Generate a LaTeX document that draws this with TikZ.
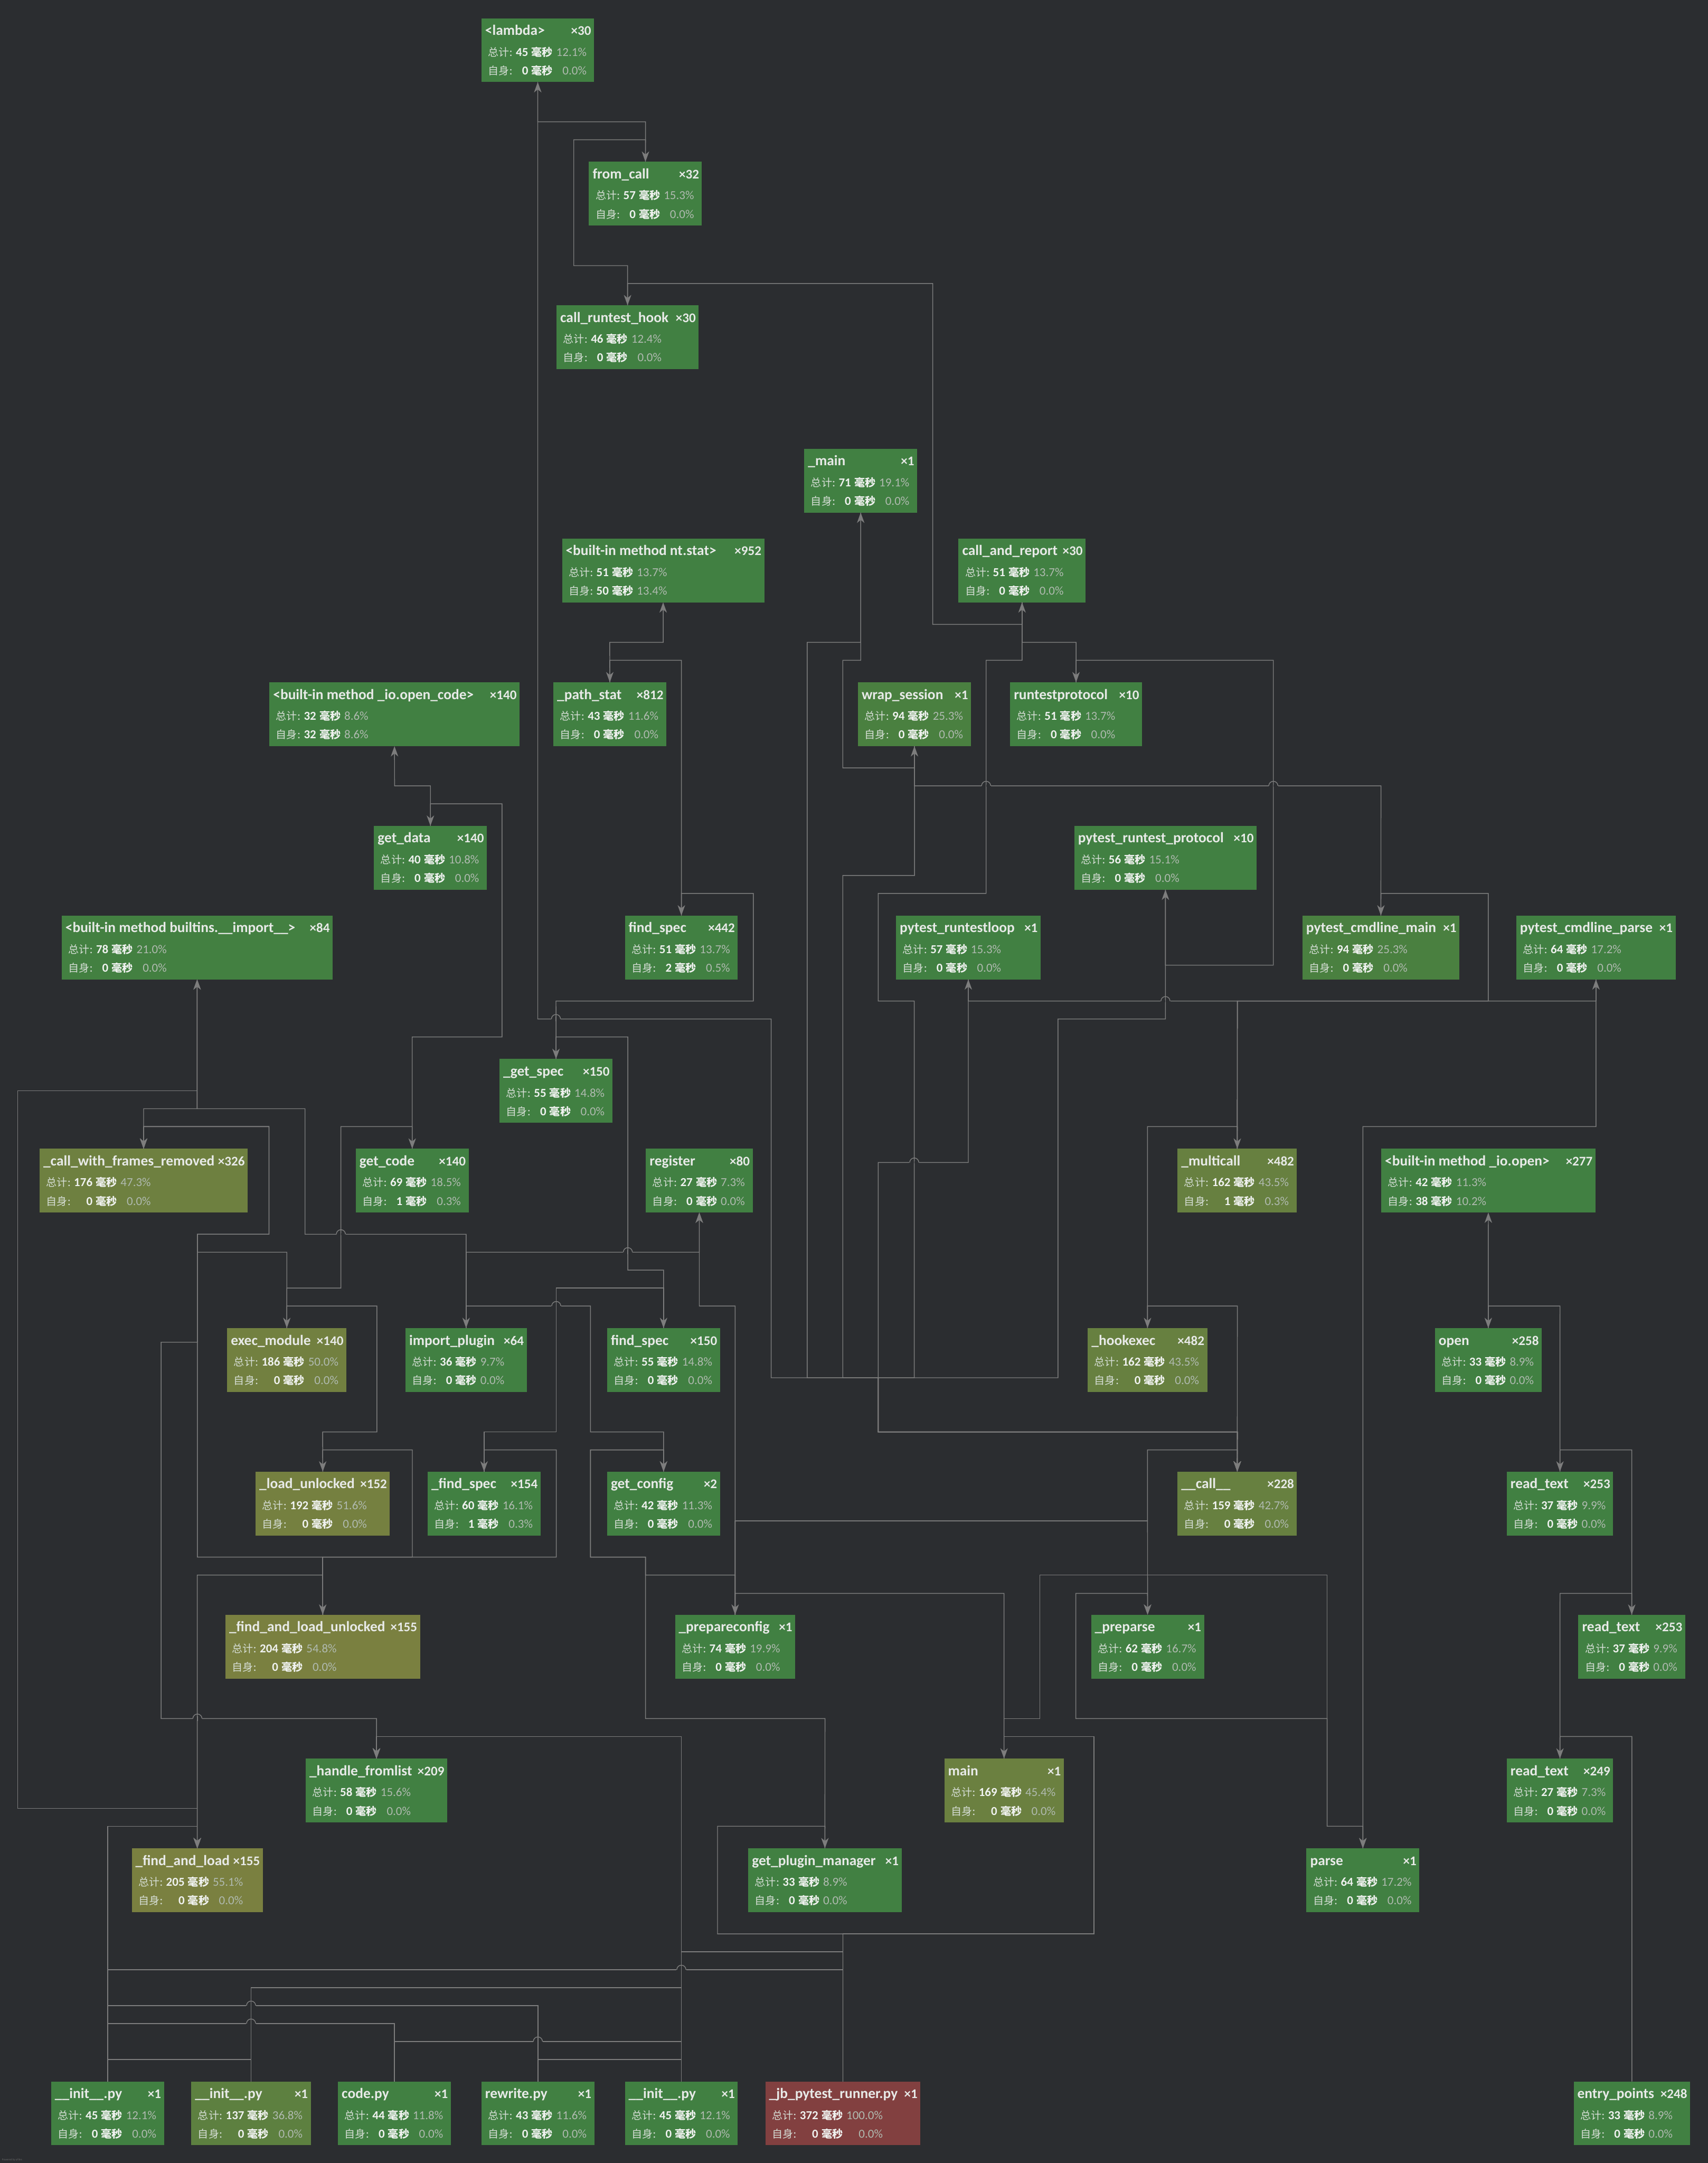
\documentclass[tikz,border=0pt]{standalone}
\usepackage{fontspec}
\setmainfont{Carlito}
\newfontfamily\cjk{Noto Sans CJK SC}
\usetikzlibrary{arrows.meta}
\definecolor{bgc}{RGB}{43,45,48}
\definecolor{edgec}{RGB}{125,125,125}
\definecolor{ttlc}{RGB}{232,234,232}
\definecolor{labc}{RGB}{214,222,214}
\definecolor{valc}{RGB}{240,242,240}
\definecolor{pctc}{RGB}{176,186,176}
\definecolor{cg}{RGB}{65,128,66}
\definecolor{c21}{RGB}{67,128,65}
\definecolor{c25}{RGB}{74,128,64}
\definecolor{c37}{RGB}{93,128,64}
\definecolor{c43}{RGB}{103,128,64}
\definecolor{c45}{RGB}{107,128,64}
\definecolor{c47}{RGB}{110,128,64}
\definecolor{c50}{RGB}{114,128,64}
\definecolor{c52}{RGB}{117,128,64}
\definecolor{c55}{RGB}{122,128,64}
\definecolor{cred}{RGB}{130,64,64}
\newcommand{\cj}[1]{{\cjk\fontsize{7.7}{13.5}\selectfont #1}}
\newcommand{\stattab}[4]{\begin{tabular}[t]{@{}l@{\hspace{2.4pt}}r@{\hspace{2.4pt}}l@{\hspace{2.6pt}}r@{}}{\color{labc}\cj{总计}:}&\textbf{#1}&\textbf{\cj{毫秒}}&{\color{pctc}#2\%}\\{\color{labc}\cj{自身}:}&\textbf{#3}&\textbf{\cj{毫秒}}&{\color{pctc}#4\%}\end{tabular}}
\newcommand{\cgnode}[9]{%
\node[fbox,fill=#5,minimum width={#4pt-#2pt},anchor=north west] (#1) at (#2,#3) {};
\node[ttl,anchor=base west] at ([xshift=2.5pt,yshift=-12.3pt]#1.north west) {#6};
\node[cnt,anchor=base east] at ([xshift=-1.9pt,yshift=-12.3pt]#1.north east) {×#7};
\node[stat,anchor=base west] at ([xshift=4.6pt,yshift=-27.4pt]#1.north west) {\stattab#8#9};}
\newcommand{\hopover}[2]{%
\fill[bgc] (#1-3.5,#2-0.8) rectangle (#1+3.5,#2+0.8);
\draw[edge] (#1,#2-1.6) -- (#1,#2+1.6);
\draw[edge] (#1-3.3,#2) arc[start angle=180,end angle=0,radius=3.3pt];}
\begin{document}
\begin{tikzpicture}[x=1pt,y=-1pt,
  fbox/.style={rectangle,draw=none,inner sep=0pt,outer sep=0pt,minimum height=46.25pt},
  ttl/.style={inner sep=0pt,text=ttlc,font=\fontsize{10.5}{12}\selectfont\bfseries},
  cnt/.style={inner sep=0pt,text=ttlc,font=\fontsize{9.6}{12}\selectfont\bfseries},
  stat/.style={inner sep=0pt,text=valc,font=\fontsize{8.8}{13.5}\selectfont},
  edge/.style={draw=edgec,line width=0.55pt},
  arr/.style={edge,-{Stealth[length=7.5pt,width=5.4pt,inset=2.2pt]}}]
\useasboundingbox (0,0) rectangle (1238,1567.6);
\fill[bgc] (0,0) rectangle (1238,1567.6);

% ---------------- nodes ----------------
\cgnode{lambda}{349.0}{13.25}{430.6}{cg}{<lambda>}{30}{{45}{12.1}}{{0}{0.0}}
\cgnode{fromcall}{426.9}{117.25}{508.8}{cg}{from\_call}{32}{{57}{15.3}}{{0}{0.0}}
\cgnode{crh}{403.4}{221.25}{506.4}{cg}{call\_runtest\_hook}{30}{{46}{12.4}}{{0}{0.0}}
\cgnode{mainA}{583.0}{325.25}{664.8}{cg}{\_main}{1}{{71}{19.1}}{{0}{0.0}}
\cgnode{ntstat}{407.4}{390.25}{554.0}{cg}{<built-in method nt.stat>}{952}{{51}{13.7}}{{50}{13.4}}
\cgnode{car}{694.8}{390.25}{786.9}{cg}{call\_and\_report}{30}{{51}{13.7}}{{0}{0.0}}
\cgnode{opencode}{195.3}{494.5}{376.6}{cg}{<built-in method \_io.open\_code>}{140}{{32}{8.6}}{{32}{8.6}}
\cgnode{pathstat}{401.1}{494.5}{483.0}{cg}{\_path\_stat}{812}{{43}{11.6}}{{0}{0.0}}
\cgnode{wrap}{621.9}{494.5}{703.8}{c25}{wrap\_session}{1}{{94}{25.3}}{{0}{0.0}}
\cgnode{rtp}{732.2}{494.5}{827.8}{cg}{runtestprotocol}{10}{{51}{13.7}}{{0}{0.0}}
\cgnode{getdata}{271.1}{598.5}{352.9}{cg}{get\_data}{140}{{40}{10.8}}{{0}{0.0}}
\cgnode{prp}{778.7}{598.5}{910.9}{cg}{pytest\_runtest\_protocol}{10}{{56}{15.1}}{{0}{0.0}}
\cgnode{imp}{44.7}{663.5}{241.1}{c21}{<built-in method builtins.\_\_import\_\_>}{84}{{78}{21.0}}{{0}{0.0}}
\cgnode{fsA}{453.0}{663.5}{534.8}{cg}{find\_spec}{442}{{51}{13.7}}{{2}{0.5}}
\cgnode{loop}{649.5}{663.5}{754.3}{cg}{pytest\_runtestloop}{1}{{57}{15.3}}{{0}{0.0}}
\cgnode{pcm}{944.1}{663.5}{1057.8}{c25}{pytest\_cmdline\_main}{1}{{94}{25.3}}{{0}{0.0}}
\cgnode{pcp}{1099.1}{663.5}{1214.6}{cg}{pytest\_cmdline\_parse}{1}{{64}{17.2}}{{0}{0.0}}
\cgnode{getspec}{362.1}{767.5}{444.0}{cg}{\_get\_spec}{150}{{55}{14.8}}{{0}{0.0}}
\cgnode{cwfr}{28.7}{832.5}{179.5}{c47}{\_call\_with\_frames\_removed}{326}{{176}{47.3}}{{0}{0.0}}
\cgnode{getcode}{257.9}{832.5}{339.7}{cg}{get\_code}{140}{{69}{18.5}}{{1}{0.3}}
\cgnode{register}{468.2}{832.5}{545.6}{cg}{register}{80}{{27}{7.3}}{{0}{0.0}}
\cgnode{multicall}{853.6}{832.5}{940.1}{c43}{\_multicall}{482}{{162}{43.5}}{{1}{0.3}}
\cgnode{ioopen}{1001.2}{832.5}{1156.5}{cg}{<built-in method \_io.open>}{277}{{42}{11.3}}{{38}{10.2}}
\cgnode{execmod}{164.7}{962.5}{251.1}{c50}{exec\_module}{140}{{186}{50.0}}{{0}{0.0}}
\cgnode{importplugin}{293.9}{962.5}{381.8}{cg}{import\_plugin}{64}{{36}{9.7}}{{0}{0.0}}
\cgnode{fsB}{440.1}{962.5}{521.9}{cg}{find\_spec}{150}{{55}{14.8}}{{0}{0.0}}
\cgnode{hookexec}{788.5}{962.5}{875.1}{c43}{\_hookexec}{482}{{162}{43.5}}{{0}{0.0}}
\cgnode{openf}{1040.1}{962.5}{1117.5}{cg}{open}{258}{{33}{8.9}}{{0}{0.0}}
\cgnode{loadu}{185.3}{1066.5}{282.6}{c52}{\_load\_unlocked}{152}{{192}{51.6}}{{0}{0.0}}
\cgnode{fsC}{310.0}{1066.5}{391.8}{cg}{\_find\_spec}{154}{{60}{16.1}}{{1}{0.3}}
\cgnode{getconfig}{440.1}{1066.5}{521.9}{cg}{get\_config}{2}{{42}{11.3}}{{0}{0.0}}
\cgnode{callh}{853.6}{1066.5}{940.1}{c43}{\_\_call\_\_}{228}{{159}{42.7}}{{0}{0.0}}
\cgnode{rtA}{1092.2}{1066.5}{1169.3}{cg}{read\_text}{253}{{37}{9.9}}{{0}{0.0}}
\cgnode{fnlu}{163.4}{1170.25}{304.5}{c55}{\_find\_and\_load\_unlocked}{155}{{204}{54.8}}{{0}{0.0}}
\cgnode{prepcfg}{489.3}{1170.25}{576.4}{cg}{\_prepareconfig}{1}{{74}{19.9}}{{0}{0.0}}
\cgnode{preparse}{790.9}{1170.25}{872.8}{cg}{\_preparse}{1}{{62}{16.7}}{{0}{0.0}}
\cgnode{rtB}{1144.1}{1170.25}{1221.5}{cg}{read\_text}{253}{{37}{9.9}}{{0}{0.0}}
\cgnode{hfl}{221.6}{1274.5}{324.2}{cg}{\_handle\_fromlist}{209}{{58}{15.6}}{{0}{0.0}}
\cgnode{mainB}{684.5}{1274.5}{771.1}{c45}{main}{1}{{169}{45.4}}{{0}{0.0}}
\cgnode{rtC}{1092.2}{1274.5}{1169.3}{cg}{read\_text}{249}{{27}{7.3}}{{0}{0.0}}
\cgnode{fal}{95.5}{1339.5}{190.5}{c55}{\_find\_and\_load}{155}{{205}{55.1}}{{0}{0.0}}
\cgnode{gpm}{542.4}{1339.5}{653.5}{cg}{get\_plugin\_manager}{1}{{33}{8.9}}{{0}{0.0}}
\cgnode{parse}{947.0}{1339.5}{1028.8}{cg}{parse}{1}{{64}{17.2}}{{0}{0.0}}
\cgnode{initA}{37.1}{1508.5}{118.9}{cg}{\_\_init\_\_.py}{1}{{45}{12.1}}{{0}{0.0}}
\cgnode{initB}{138.7}{1508.5}{225.3}{c37}{\_\_init\_\_.py}{1}{{137}{36.8}}{{0}{0.0}}
\cgnode{codepy}{245.0}{1508.5}{326.8}{cg}{code.py}{1}{{44}{11.8}}{{0}{0.0}}
\cgnode{rewrite}{349.0}{1508.5}{430.8}{cg}{rewrite.py}{1}{{43}{11.6}}{{0}{0.0}}
\cgnode{initC}{453.0}{1508.5}{534.8}{cg}{\_\_init\_\_.py}{1}{{45}{12.1}}{{0}{0.0}}
\cgnode{jb}{554.8}{1508.5}{667.2}{cred}{\_jb\_pytest\_runner.py}{1}{{372}{100.0}}{{0}{0.0}}
\cgnode{entry}{1140.7}{1508.5}{1225.1}{cg}{entry\_points}{248}{{33}{8.9}}{{0}{0.0}}

\node[anchor=west,inner sep=0pt,text={rgb,255:red,105;green,105;blue,105},font=\fontsize{2}{2.4}\selectfont] (pw) at (1.3,1565.3) {Powered by yFiles};

\coordinate (busj) at (636.6,998.5);

% ---------------- edges ----------------
\draw[arr] (fromcall.north) -- (467.9,88.25) -- (389.8,88.25) -- (lambda.south);
\draw[arr] (crh.north) -- (454.9,192.5) -- (415.9,192.5) -- (415.9,101.25) -- (467.9,101.25) -- (fromcall.north);
\draw[arr] (car.south) -- (740.9,452.5) -- (676.1,452.5) -- (676.1,205.5) -- (454.9,205.5) -- (crh.north);
\draw[arr] (rtp.north) -- (780,465.5) -- (740.9,465.5) -- (car.south);
\draw[arr] (prp.south) -- (844.8,699.5) -- (923,699.5) -- (923,478.5) -- (780,478.5) -- (rtp.north);
\draw[arr] (lambda.south) -- (389.8,738.5) -- (559,738.5) -- (559,998.5) -- (636.6,998.5) -- (636.6,1037.75) -- (896.9,1037.75) -- (callh.north);
\draw[arr] (mainA.south) -- (623.9,465.5) -- (585.1,465.5) -- (585.1,998.5) -- (636.6,998.5) -- (636.6,1037.75) -- (896.9,1037.75) -- (callh.north);
\draw[arr] (wrap.south) -- (662.9,556.5) -- (610.9,556.5) -- (610.9,478.5) -- (623.9,478.5) -- (mainA.south);
\draw[arr] (wrap.south) -- (662.9,634.5) -- (610.9,634.5) -- (610.9,998.5) -- (636.6,998.5) -- (636.6,1037.75) -- (896.9,1037.75) -- (callh.north);
\draw[arr] (pcm.north) -- (1001,569.5) -- (662.9,569.5) -- (wrap.south);
\draw[arr] (car.south) -- (740.9,478.5) -- (714.8,478.5) -- (714.8,647.5) -- (636.6,647.5) -- (636.6,725.5) -- (662.7,725.5) -- (662.7,998.5) -- (636.6,998.5) -- (636.6,1037.75) -- (896.9,1037.75) -- (callh.north);
\draw[arr] (loop.south) -- (701.9,842.5) -- (636.6,842.5) -- (636.6,1037.75) -- (896.9,1037.75) -- (callh.north);
\draw[arr] (busj) -- (766.9,998.5) -- (766.9,738.5) -- (844.8,738.5) -- (prp.south);
\draw[arr] (multicall.north) -- (896.9,725.5) -- (701.9,725.5) -- (loop.south);
\draw[arr] (multicall.north) -- (896.9,725.5) -- (1156.9,725.5) -- (pcp.south);
\draw[arr] (multicall.north) -- (896.9,725.5) -- (1078.8,725.5) -- (1078.8,647.5) -- (1001,647.5) -- (pcm.north);
\draw[arr] (hookexec.north) -- (831.8,816.5) -- (896.9,816.5) -- (multicall.north);
\draw[arr] (callh.north) -- (896.9,946.5) -- (831.8,946.5) -- (hookexec.north);
\draw[arr] (pcp.south) -- (1156.9,816.5) -- (987.9,816.5) -- (parse.north);
\draw[arr] (openf.north) -- (ioopen.south);
\draw[arr] (rtA.north) -- (1130.8,946.5) -- (1078.8,946.5) -- (openf.north);
\draw[arr] (rtB.north) -- (1182.8,1050.75) -- (1130.8,1050.75) -- (rtA.north);
\draw[arr] (rtC.north) -- (1130.8,1154.75) -- (1182.8,1154.75) -- (rtB.north);
\draw[arr] (entry.north) -- (1182.9,1258.5) -- (1130.8,1258.5) -- (rtC.north);
\draw[arr] (prepcfg.north) -- (532.9,1102.25) -- (831.8,1102.25) -- (831.8,1050.75) -- (896.9,1050.75) -- (callh.north);
\draw[arr] (prepcfg.north) -- (532.9,1102.25) -- (831.8,1102.25) -- (preparse.north);
\draw[arr] (mainB.north) -- (727.8,1245.5) -- (753.8,1245.5) -- (753.8,1141.5) -- (962,1141.5) -- (962,1323.5) -- (987.9,1323.5) -- (parse.north);
\draw[arr] (parse.north) -- (987.9,1323.5) -- (962,1323.5) -- (962,1245.5) -- (779.8,1245.5) -- (779.8,1154.75) -- (831.8,1154.75) -- (preparse.north);
\draw[arr] (mainB.north) -- (727.8,1154.75) -- (532.9,1154.75) -- (prepcfg.north);
\draw[arr] (jb.north) -- (611,1401.5) -- (793,1401.5) -- (793,1258.5) -- (727.8,1258.5) -- (mainB.north);
\draw[arr] (jb.north) -- (611,1401.5) -- (520.1,1401.5) -- (520.1,1323.5) -- (598,1323.5) -- (gpm.north);
\draw[arr] (gpm.north) -- (598,1245.5) -- (467.9,1245.5) -- (467.9,1128.5) -- (428,1128.5) -- (428,1050.75) -- (481,1050.75) -- (getconfig.north);
\draw[arr] (prepcfg.north) -- (532.9,1141.5) -- (467.9,1141.5) -- (467.9,1128.5) -- (428,1128.5) -- (428,1050.75) -- (481,1050.75) -- (getconfig.north);
\draw[arr] (prepcfg.north) -- (532.9,946.5) -- (506.9,946.5) -- (register.south);
\draw[arr] (getconfig.north) -- (481,1037.75) -- (428,1037.75) -- (428,946.5) -- (337.9,946.5) -- (importplugin.north);
\draw[arr] (importplugin.north) -- (337.9,907.5) -- (506.9,907.5) -- (register.south);
\draw[arr] (importplugin.north) -- (337.9,894.5) -- (221.1,894.5) -- (221.1,803.5) -- (142.9,803.5) -- (imp.south);
\draw[arr] (cwfr.north) -- (104.1,803.5) -- (142.9,803.5) -- (imp.south);
\draw[arr] (imp.south) -- (142.9,790.5) -- (12.9,790.5) -- (12.9,1310.5) -- (143,1310.5) -- (fal.north);
\draw[arr] (execmod.north) -- (207.9,907.5) -- (143.1,907.5) -- (143.1,894.5) -- (195,894.5) -- (195,816.5) -- (104.1,816.5) -- (cwfr.north);
\draw[arr] (hfl.north) -- (272.9,1245.5) -- (116.8,1245.5) -- (116.8,972.75) -- (143.1,972.75) -- (143.1,894.5) -- (195,894.5) -- (195,816.5) -- (104.1,816.5) -- (cwfr.north);
\draw[arr] (fnlu.north) -- (233.9,1128.5) -- (143.1,1128.5) -- (143.1,894.5) -- (195,894.5) -- (195,816.5) -- (104.1,816.5) -- (cwfr.north);
\draw[arr] (fal.north) -- (143,1141.5) -- (233.9,1141.5) -- (fnlu.north);
\draw[arr] (fnlu.north) -- (233.9,1128.5) -- (298.9,1128.5) -- (298.9,1050.75) -- (233.9,1050.75) -- (loadu.north);
\draw[arr] (fnlu.north) -- (233.9,1128.5) -- (403.2,1128.5) -- (403.2,1050.75) -- (350.9,1050.75) -- (fsC.north);
\draw[arr] (loadu.north) -- (233.9,1037.75) -- (273.2,1037.75) -- (273.2,946.5) -- (207.9,946.5) -- (execmod.north);
\draw[arr] (fsC.north) -- (350.9,1037.75) -- (403.2,1037.75) -- (403.2,933.5) -- (481,933.5) -- (fsB.north);
\draw[arr] (fsB.north) -- (481,920.5) -- (455.1,920.5) -- (455.1,751.5) -- (403,751.5) -- (getspec.north);
\draw[arr] (getspec.north) -- (403,725.5) -- (546.1,725.5) -- (546.1,647.5) -- (493.9,647.5) -- (fsA.north);
\draw[arr] (fsA.north) -- (493.9,478.5) -- (442,478.5) -- (pathstat.north);
\draw[arr] (pathstat.north) -- (442,465.5) -- (480.7,465.5) -- (ntstat.south);
\draw[arr] (execmod.north) -- (207.9,933.5) -- (247.1,933.5) -- (247.1,816.5) -- (298.8,816.5) -- (getcode.north);
\draw[arr] (getcode.north) -- (298.8,751.5) -- (363.9,751.5) -- (363.9,582.5) -- (312,582.5) -- (getdata.north);
\draw[arr] (getdata.north) -- (312,569.5) -- (286,569.5) -- (opencode.south);
% modules -> _find_and_load
\draw[arr] (initA.north) -- (78,1323.5) -- (143,1323.5) -- (fal.north);
\draw[arr] (initB.north) -- (182,1492.5) -- (78,1492.5) -- (78,1323.5) -- (143,1323.5) -- (fal.north);
\draw[arr] (codepy.north) -- (285.9,1466.5) -- (78,1466.5) -- (78,1323.5) -- (143,1323.5) -- (fal.north);
\draw[arr] (rewrite.north) -- (389.9,1453.5) -- (78,1453.5) -- (78,1323.5) -- (143,1323.5) -- (fal.north);
\draw[arr] (jb.north) -- (611,1427.5) -- (78,1427.5) -- (78,1323.5) -- (143,1323.5) -- (fal.north);
% modules -> _handle_fromlist
\draw[arr] (initC.north) -- (493.9,1258.5) -- (272.9,1258.5) -- (hfl.north);
\draw[arr] (initB.north) -- (182,1440.5) -- (493.9,1440.5) -- (493.9,1258.5) -- (272.9,1258.5) -- (hfl.north);
\draw[arr] (jb.north) -- (611,1414.5) -- (493.9,1414.5) -- (493.9,1258.5) -- (272.9,1258.5) -- (hfl.north);
\draw[arr] (rewrite.north) -- (389.9,1492.5) -- (493.9,1492.5) -- (493.9,1258.5) -- (272.9,1258.5) -- (hfl.north);
\draw[arr] (codepy.north) -- (285.9,1479.5) -- (493.9,1479.5) -- (493.9,1258.5) -- (272.9,1258.5) -- (hfl.north);

% ---------------- line bridges ----------------
\hopover{403.0}{738.5}
\hopover{714.8}{569.5}
\hopover{923.0}{569.5}
\hopover{844.8}{725.5}
\hopover{247.1}{894.5}
\hopover{403.2}{946.5}
\hopover{455.1}{907.5}
\hopover{662.7}{842.5}
\hopover{143.1}{1245.5}
\hopover{493.9}{1427.5}
\hopover{182.0}{1453.5}
\hopover{182.0}{1466.5}
\hopover{389.9}{1479.5}
\end{tikzpicture}
\end{document}
